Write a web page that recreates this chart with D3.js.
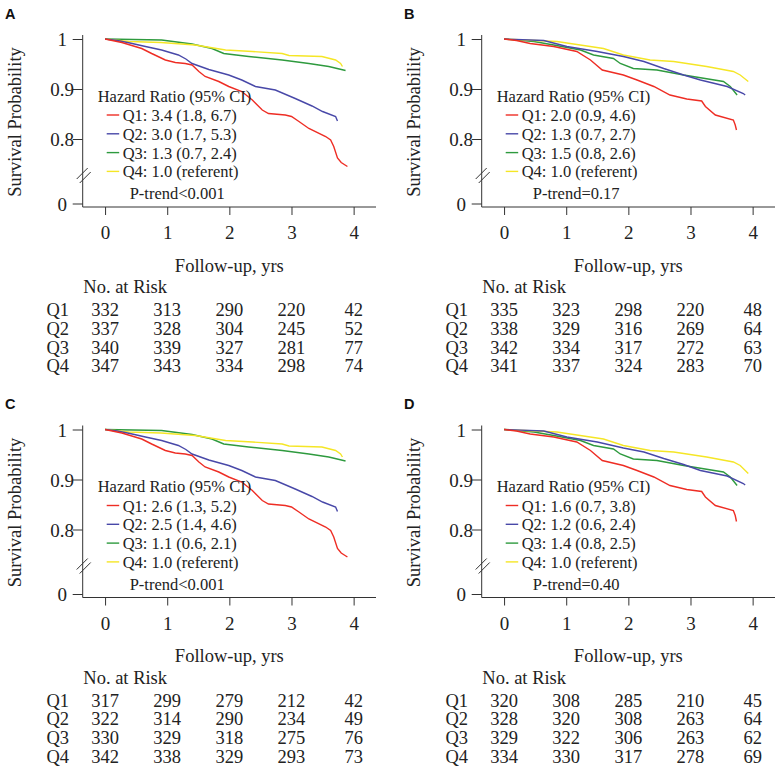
<!DOCTYPE html>
<html>
<head>
<meta charset="utf-8">
<script src="https://cdn.jsdelivr.net/npm/d3@7"></script>
<style>
  html, body { margin: 0; padding: 0; background: #fff; }
  svg { display: block; }
  text { font-family: "Liberation Serif", "Times New Roman", serif; fill: #222; }
</style>
</head>
<body>
<svg id="chart" width="780" height="780"></svg>
<script>
// ---------------- DATA ----------------
const groups = ["Q1", "Q2", "Q3", "Q4"];
const riskTimes = [0, 1, 2, 3, 4];
const xTicks = [0, 1, 2, 3, 4];
const yTicks = [0, 0.8, 0.9, 1];
const panelLabels = ["A", "B", "C", "D"];

// Survival curves [year, survival probability]
const curveA_Q1 = [[0,1],[0.27,0.993],[0.59,0.981],[0.75,0.971],[0.97,0.958],[1.13,0.953],[1.29,0.951],[1.40,0.948],[1.51,0.935],[1.61,0.925],[1.83,0.915],[1.99,0.905],[2.2,0.895],[2.37,0.878],[2.53,0.858],[2.63,0.851],[2.9,0.848],[3.0,0.845],[3.12,0.835],[3.28,0.821],[3.55,0.805],[3.63,0.798],[3.68,0.785],[3.74,0.762],[3.80,0.753],[3.90,0.745]];
const curveA_Q2 = [[0,1],[0.2,0.997],[0.4,0.992],[0.65,0.985],[0.91,0.978],[1.18,0.968],[1.30,0.96],[1.40,0.951],[1.67,0.939],[1.99,0.928],[2.2,0.918],[2.42,0.905],[2.74,0.898],[3.06,0.881],[3.33,0.866],[3.5,0.855],[3.71,0.845],[3.74,0.836]];
const curveA_Q3 = [[0,1],[0.91,0.998],[1.40,0.99],[1.72,0.981],[1.91,0.971],[2.31,0.965],[2.85,0.958],[3.28,0.951],[3.60,0.945],[3.87,0.937]];
const curveA_Q4 = [[0,1],[0.38,0.995],[0.9,0.993],[1.45,0.988],[1.94,0.978],[2.37,0.975],[2.85,0.971],[2.96,0.967],[3.49,0.965],[3.71,0.958],[3.79,0.951],[3.82,0.945]];

const curveB_Q1 = [[0,1],[0.2,0.997],[0.42,0.991],[0.80,0.985],[1.17,0.975],[1.39,0.958],[1.58,0.938],[1.92,0.928],[2.14,0.918],[2.41,0.905],[2.67,0.888],[2.94,0.880],[3.18,0.876],[3.24,0.865],[3.40,0.848],[3.69,0.838],[3.72,0.828],[3.74,0.818]];
const curveB_Q2 = [[0,1],[0.64,0.997],[1.01,0.985],[1.50,0.975],[1.92,0.965],[2.25,0.955],[2.57,0.941],[2.89,0.928],[3.16,0.918],[3.59,0.905],[3.85,0.891],[3.88,0.888]];
const curveB_Q3 = [[0,1],[0.48,0.995],[0.80,0.988],[1.23,0.978],[1.44,0.968],[1.76,0.961],[1.87,0.951],[2.08,0.941],[2.46,0.938],[2.89,0.928],[3.53,0.915],[3.64,0.905],[3.75,0.888]];
const curveB_Q4 = [[0,1],[0.85,0.995],[1.6,0.981],[1.92,0.968],[2.35,0.958],[2.73,0.955],[3.26,0.945],[3.69,0.935],[3.8,0.928],[3.93,0.915]];

const curveC_Q1 = [[0,1],[0.27,0.993],[0.59,0.981],[0.75,0.971],[0.97,0.958],[1.13,0.953],[1.29,0.951],[1.40,0.948],[1.51,0.935],[1.61,0.925],[1.83,0.915],[1.99,0.905],[2.2,0.895],[2.37,0.878],[2.53,0.858],[2.63,0.851],[2.9,0.848],[3.0,0.845],[3.12,0.835],[3.28,0.821],[3.55,0.805],[3.63,0.798],[3.68,0.785],[3.74,0.762],[3.80,0.753],[3.90,0.745]];
const curveC_Q2 = [[0,1],[0.2,0.997],[0.4,0.992],[0.65,0.985],[0.91,0.978],[1.18,0.968],[1.30,0.96],[1.40,0.951],[1.67,0.939],[1.99,0.928],[2.2,0.918],[2.42,0.905],[2.74,0.898],[3.06,0.881],[3.33,0.866],[3.5,0.855],[3.71,0.845],[3.74,0.836]];
const curveC_Q3 = [[0,1],[0.91,0.998],[1.40,0.99],[1.72,0.981],[1.91,0.971],[2.31,0.965],[2.85,0.958],[3.28,0.951],[3.60,0.945],[3.87,0.937]];
const curveC_Q4 = [[0,1],[0.38,0.995],[0.9,0.993],[1.45,0.988],[1.94,0.978],[2.37,0.975],[2.85,0.971],[2.96,0.967],[3.49,0.965],[3.71,0.958],[3.79,0.951],[3.82,0.945]];

const curveD_Q1 = [[0,1],[0.2,0.997],[0.42,0.991],[0.80,0.985],[1.17,0.975],[1.39,0.958],[1.58,0.938],[1.92,0.928],[2.14,0.918],[2.41,0.905],[2.67,0.888],[2.94,0.880],[3.18,0.876],[3.24,0.865],[3.40,0.848],[3.69,0.838],[3.72,0.828],[3.74,0.816]];
const curveD_Q2 = [[0,1],[0.64,0.997],[1.01,0.985],[1.50,0.975],[1.92,0.963],[2.25,0.955],[2.57,0.942],[2.89,0.93],[3.16,0.918],[3.59,0.907],[3.85,0.892],[3.88,0.889]];
const curveD_Q3 = [[0,1],[0.48,0.995],[0.80,0.988],[1.23,0.978],[1.44,0.968],[1.76,0.961],[1.87,0.951],[2.08,0.941],[2.46,0.938],[2.89,0.928],[3.53,0.915],[3.64,0.905],[3.75,0.888]];
const curveD_Q4 = [[0,1],[0.85,0.995],[1.6,0.981],[1.92,0.968],[2.35,0.958],[2.73,0.955],[3.26,0.945],[3.69,0.935],[3.8,0.928],[3.93,0.912]];

const hrA = ["3.4 (1.8, 6.7)", "3.0 (1.7, 5.3)", "1.3 (0.7, 2.4)", "1.0 (referent)"];
const hrB = ["2.0 (0.9, 4.6)", "1.3 (0.7, 2.7)", "1.5 (0.8, 2.6)", "1.0 (referent)"];
const hrC = ["2.6 (1.3, 5.2)", "2.5 (1.4, 4.6)", "1.1 (0.6, 2.1)", "1.0 (referent)"];
const hrD = ["1.6 (0.7, 3.8)", "1.2 (0.6, 2.4)", "1.4 (0.8, 2.5)", "1.0 (referent)"];
const pTrend = ["P-trend<0.001", "P-trend=0.17", "P-trend<0.001", "P-trend=0.40"];

const riskA = [[332,313,290,220,42],[337,328,304,245,52],[340,339,327,281,77],[347,343,334,298,74]];
const riskB = [[335,323,298,220,48],[338,329,316,269,64],[342,334,317,272,63],[341,337,324,283,70]];
const riskC = [[317,299,279,212,42],[322,314,290,234,49],[330,329,318,275,76],[342,338,329,293,73]];
const riskD = [[320,308,285,210,45],[328,320,308,263,64],[329,322,306,263,62],[334,330,317,278,69]];

const colors = ["#ee2d24", "#4848a8", "#2e9a3e", "#f5e626"];

// ---------------- DRAW ----------------
const svg = d3.select("#chart");
const panels = [
  {ox: 0,   oy: 0,     curves: [curveA_Q1, curveA_Q2, curveA_Q3, curveA_Q4], hr: hrA, risk: riskA},
  {ox: 399, oy: 0,     curves: [curveB_Q1, curveB_Q2, curveB_Q3, curveB_Q4], hr: hrB, risk: riskB},
  {ox: 0,   oy: 390.5, curves: [curveC_Q1, curveC_Q2, curveC_Q3, curveC_Q4], hr: hrC, risk: riskC},
  {ox: 399, oy: 390.5, curves: [curveD_Q1, curveD_Q2, curveD_Q3, curveD_Q4], hr: hrD, risk: riskD}
];

const axisX0 = 82.7, axisX1 = 376, axisY = 207;
const x = d3.scaleLinear().domain([-0.36, 4.36]).range([axisX0, axisX1]);
const y = d3.scaleLinear().domain([0, 0.73, 1]).range([203.5, 174, 39]);
const line = d3.line().x(d => x(d[0])).y(d => y(d[1]));

panels.forEach((p, i) => {
  const g = svg.append("g").attr("transform", `translate(${p.ox},${p.oy})`);

  // panel letter
  g.append("text").attr("x", 5).attr("y", 18.5)
    .style("font-family", "'Liberation Sans', Arial, sans-serif")
    .style("font-weight", "bold").style("font-size", "14.5px").style("fill", "#111")
    .text(panelLabels[i]);

  // y axis
  const yAxis = d3.axisLeft(y).tickValues(yTicks).tickSize(10)
    .tickFormat(d => d === 1 ? "1" : d === 0 ? "0" : d3.format(".1f")(d));
  const gy = g.append("g").attr("transform", `translate(${axisX0},0)`).call(yAxis);
  gy.select(".domain").remove();
  gy.selectAll(".tick line").attr("stroke", "#333").attr("stroke-width", 1);
  gy.selectAll(".tick text").attr("x", -20.5).attr("dy", "0.36em")
    .attr("text-anchor", "middle")
    .style("font-family", "'Liberation Serif', 'Times New Roman', serif")
    .style("font-size", "19px").style("fill", "#222");
  g.append("line").attr("x1", axisX0).attr("x2", axisX0).attr("y1", 35).attr("y2", axisY)
    .attr("stroke", "#333").attr("stroke-width", 1);
  // break marks
  g.append("line").attr("x1", axisX0 - 6).attr("y1", 179).attr("x2", axisX0 + 5).attr("y2", 168)
    .attr("stroke", "#333").attr("stroke-width", 1);
  g.append("line").attr("x1", axisX0 - 3).attr("y1", 183).attr("x2", axisX0 + 8).attr("y2", 172)
    .attr("stroke", "#333").attr("stroke-width", 1);

  // x axis
  const xAxis = d3.axisBottom(x).tickValues(xTicks).tickSize(8).tickFormat(d3.format("d"));
  const gx = g.append("g").attr("transform", `translate(0,${axisY})`).call(xAxis);
  gx.select(".domain").remove();
  gx.selectAll(".tick line").attr("stroke", "#333").attr("stroke-width", 1);
  gx.selectAll(".tick text").attr("y", 32).attr("dy", 0)
    .style("font-family", "'Liberation Serif', 'Times New Roman', serif")
    .style("font-size", "19px").style("fill", "#222");
  g.append("line").attr("x1", axisX0).attr("x2", axisX1).attr("y1", axisY).attr("y2", axisY)
    .attr("stroke", "#333").attr("stroke-width", 1);

  // y title
  g.append("text").attr("transform", `translate(21,122) rotate(-90)`)
    .attr("text-anchor", "middle").style("font-size", "18.5px")
    .text("Survival Probability");

  // curves
  [2, 3, 1, 0].forEach(k => {
    g.append("path").datum(p.curves[k]).attr("d", line)
      .attr("fill", "none").attr("stroke", colors[k]).attr("stroke-width", 1.4);
  });

  // legend
  const lx = axisX0 + 15;
  g.append("text").attr("x", lx).attr("y", 101.5).style("font-size", "16.5px")
    .text("Hazard Ratio (95% CI)");
  groups.forEach((q, k) => {
    const by = 121 + k * 18.8;
    g.append("line").attr("x1", axisX0 + 24).attr("x2", axisX0 + 36.5)
      .attr("y1", by - 6).attr("y2", by - 6)
      .attr("stroke", colors[k]).attr("stroke-width", 1.4);
    g.append("text").attr("x", axisX0 + 40).attr("y", by).style("font-size", "16.5px")
      .text(`${q}: ${p.hr[k]}`);
  });
  g.append("text").attr("x", axisX0 + 94.5).attr("y", 199).attr("text-anchor", "middle")
    .style("font-size", "16.5px").text(pTrend[i]);

  // x title
  g.append("text").attr("x", (axisX0 + axisX1) / 2).attr("y", 271.5)
    .attr("text-anchor", "middle").style("font-size", "18.5px").text("Follow-up, yrs");

  // risk table
  g.append("text").attr("x", 83.3).attr("y", 293.3).style("font-size", "18.5px").text("No. at Risk");
  groups.forEach((q, k) => {
    const by = 316 + k * 18.8;
    g.append("text").attr("x", 46.5).attr("y", by).style("font-size", "18.5px").text(q);
    riskTimes.forEach((t, j) => {
      g.append("text").attr("x", x(t)).attr("y", by).attr("text-anchor", "middle")
        .style("font-size", "18.5px").text(p.risk[k][j]);
    });
  });
});
</script>
</body>
</html>
